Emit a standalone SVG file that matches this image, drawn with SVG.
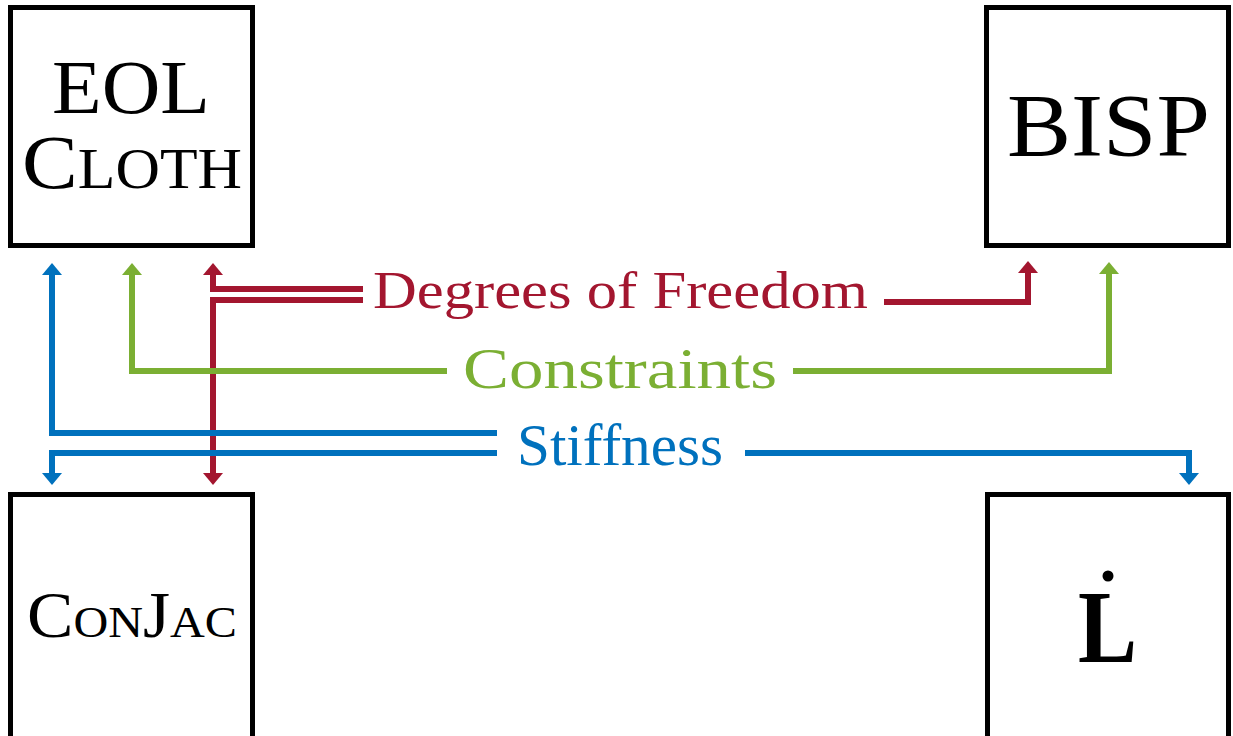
<svg xmlns="http://www.w3.org/2000/svg" width="1233" height="736" viewBox="0 0 1233 736">
<style>
.box{fill:#fff;stroke:#000;stroke-width:5}
.lbl{font-family:"Liberation Serif","Times New Roman",serif;fill:#000}
.ln{fill:none;stroke-width:6;stroke-linecap:butt;stroke-linejoin:miter}
.red{stroke:#A3162F}
.grn{stroke:#7BAF33}
.blu{stroke:#0071BD}
.t{font-family:"Liberation Serif","Times New Roman",serif}
</style>
<defs>
<marker id="ar" viewBox="0 0 12 20" markerWidth="12" markerHeight="20" refX="0" refY="10" orient="auto" markerUnits="userSpaceOnUse"><path d="M0,0 L12,10 L0,20 z" fill="#A3162F"/></marker>
<marker id="ag" viewBox="0 0 12 20" markerWidth="12" markerHeight="20" refX="0" refY="10" orient="auto" markerUnits="userSpaceOnUse"><path d="M0,0 L12,10 L0,20 z" fill="#7BAF33"/></marker>
<marker id="ab" viewBox="0 0 12 20" markerWidth="12" markerHeight="20" refX="0" refY="10" orient="auto" markerUnits="userSpaceOnUse"><path d="M0,0 L12,10 L0,20 z" fill="#0071BD"/></marker>
</defs>
<rect width="1233" height="736" fill="#fff"/>
<g id="eolcloth">
<rect class="box" x="10.5" y="7.5" width="242" height="238"/>
<text class="lbl" x="52" y="113" font-size="76" textLength="158" lengthAdjust="spacingAndGlyphs">EOL</text>
<text class="lbl" x="22" y="188" textLength="220" lengthAdjust="spacingAndGlyphs"><tspan font-size="76">C</tspan><tspan font-size="56">LOTH</tspan></text>
</g>
<g id="bisp">
<rect class="box" x="986.5" y="7.5" width="242" height="238"/>
<text class="lbl" x="1007" y="155" font-size="88" textLength="203" lengthAdjust="spacingAndGlyphs">BISP</text>
</g>
<g id="conjac">
<rect class="box" x="10.5" y="494.5" width="242" height="260"/>
<text class="lbl" x="27" y="637" textLength="210" lengthAdjust="spacingAndGlyphs"><tspan font-size="65">C</tspan><tspan font-size="45">ON</tspan><tspan font-size="65">J</tspan><tspan font-size="45">AC</tspan></text>
</g>
<g id="ldot">
<rect class="box" x="987.5" y="494.5" width="241" height="260"/>
<text class="lbl" x="1078" y="662" font-size="104" font-weight="bold" textLength="59" lengthAdjust="spacingAndGlyphs">L</text>
<circle cx="1108" cy="576" r="5.5" fill="#000"/>
</g>
<g id="connectors">
<path class="ln red" d="M363,289 H213 V275" marker-end="url(#ar)"/>
<path class="ln red" d="M363,300 H213 V473" marker-end="url(#ar)"/>
<path class="ln red" d="M884,302 H1028 V273" marker-end="url(#ar)"/>
<path class="ln grn" d="M447,371 H132 V275" marker-end="url(#ag)"/>
<path class="ln grn" d="M793,371 H1109 V274" marker-end="url(#ag)"/>
<path class="ln blu" d="M497,433 H52 V275" marker-end="url(#ab)"/>
<path class="ln blu" d="M497,453 H52 V473" marker-end="url(#ab)"/>
<path class="ln blu" d="M745,453 H1189 V473" marker-end="url(#ab)"/>
<text class="t" x="373" y="308" font-size="52" fill="#A3162F" textLength="495" lengthAdjust="spacingAndGlyphs">Degrees of Freedom</text>
<text class="t" x="463" y="388" font-size="58" fill="#7BAF33" textLength="314" lengthAdjust="spacingAndGlyphs">Constraints</text>
<text class="t" x="517" y="465" font-size="60" fill="#0071BD" textLength="206" lengthAdjust="spacingAndGlyphs">Stiffness</text>
</g>
</svg>
